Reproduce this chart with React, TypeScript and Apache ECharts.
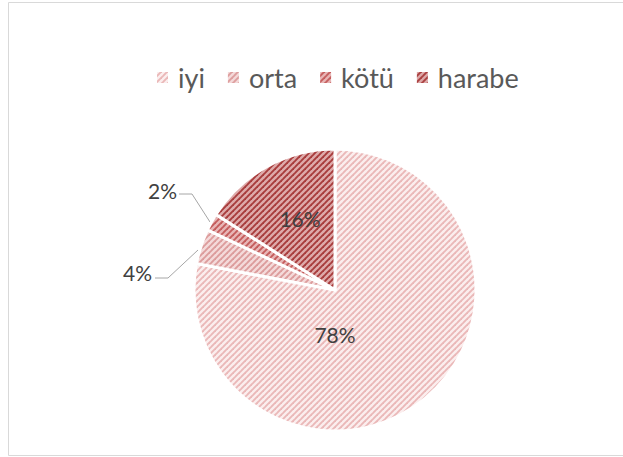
import React, { useEffect, useRef } from "react";
import * as echarts from "echarts";

const categories = ["iyi", "orta", "kötü", "harabe"];
const values = [78, 4, 2, 16];
const bgColors = ["#fbeeee", "#f4dada", "#e8b6b6", "#deaaaa"];
const stripeColors = ["#eab8b8", "#dc9c9c", "#c45c5c", "#a83c3c"];

function makePattern(bg: string, fg: string) {
  const P = 6;
  const c = document.createElement("canvas");
  c.width = P;
  c.height = P;
  const ctx = c.getContext("2d")!;
  ctx.fillStyle = bg;
  ctx.fillRect(0, 0, P, P);
  ctx.strokeStyle = fg;
  ctx.lineWidth = 1.9;
  for (const k of [0, P, 2 * P]) {
    ctx.beginPath();
    ctx.moveTo(k - 10, 10);
    ctx.lineTo(k + 10, -10);
    ctx.stroke();
  }
  return c;
}

export default function App() {
  const ref = useRef<HTMLDivElement>(null);
  useEffect(() => {
    document.body.style.margin = "0";
    const chart = echarts.init(ref.current!, null, { renderer: "svg" });
    const cx = 335;
    const cy = 290;
    const R = 141;
    const data = categories.map((name, i) => ({
      name,
      value: values[i],
      itemStyle: {
        color: { image: makePattern(bgColors[i], stripeColors[i]), repeat: "repeat" } as any,
      },
      label: { position: i === 1 || i === 2 ? "outside" : "inside" },
      labelLine: { show: i === 1 || i === 2 },
    }));
    chart.setOption({
      animation: false,
      backgroundColor: "#ffffff",
      graphic: [
        {
          type: "rect",
          shape: { x: 8.5, y: 2.5, width: 640, height: 453 },
          style: { fill: "none", stroke: "#d9d9d9", lineWidth: 1 },
          silent: true,
        },
      ],
      legend: {
        top: 59,
        left: 150,
        icon: "rect",
        itemWidth: 13,
        itemHeight: 13,
        itemGap: 21,
        textStyle: {
          fontFamily: "Lato",
          fontSize: 27,
          color: "#595959",
          padding: [0, 0, 0, 4],
        },
        data: categories,
      },
      series: [
        {
          type: "pie",
          center: [cx, cy],
          radius: [0, R],
          startAngle: 90,
          clockwise: true,
          itemStyle: { borderColor: "#ffffff", borderWidth: 3 },
          label: {
            formatter: "{d}%",
            fontFamily: "Lato",
            fontSize: 21,
            color: "#404040",
          },
          labelLine: {
            lineStyle: { color: "#a6a6a6", width: 1 },
          },
          labelLayout: (p: any) => {
            if (p.dataIndex === 0) {
              return { x: cx, y: cy + 44, align: "center", verticalAlign: "middle" };
            }
            if (p.dataIndex === 3) {
              return { x: cx - 35, y: cy - 72, align: "center", verticalAlign: "middle" };
            }
            if (p.dataIndex === 2) {
              return {
                x: cx - 158,
                y: cy - 100,
                align: "right",
                verticalAlign: "middle",
                labelLinePoints: [
                  [cx - 125, cy - 68],
                  [cx - 143, cy - 96],
                  [cx - 156, cy - 96],
                ],
              };
            }
            return {
              x: cx - 183,
              y: cy - 18,
              align: "right",
              verticalAlign: "middle",
              labelLinePoints: [
                [cx - 137, cy - 40],
                [cx - 167, cy - 12],
                [cx - 180, cy - 12],
              ],
            };
          },
          data,
        },
      ],
    });
    return () => chart.dispose();
  }, []);
  return <div ref={ref} style={{ width: 623, height: 457 }} />;
}
